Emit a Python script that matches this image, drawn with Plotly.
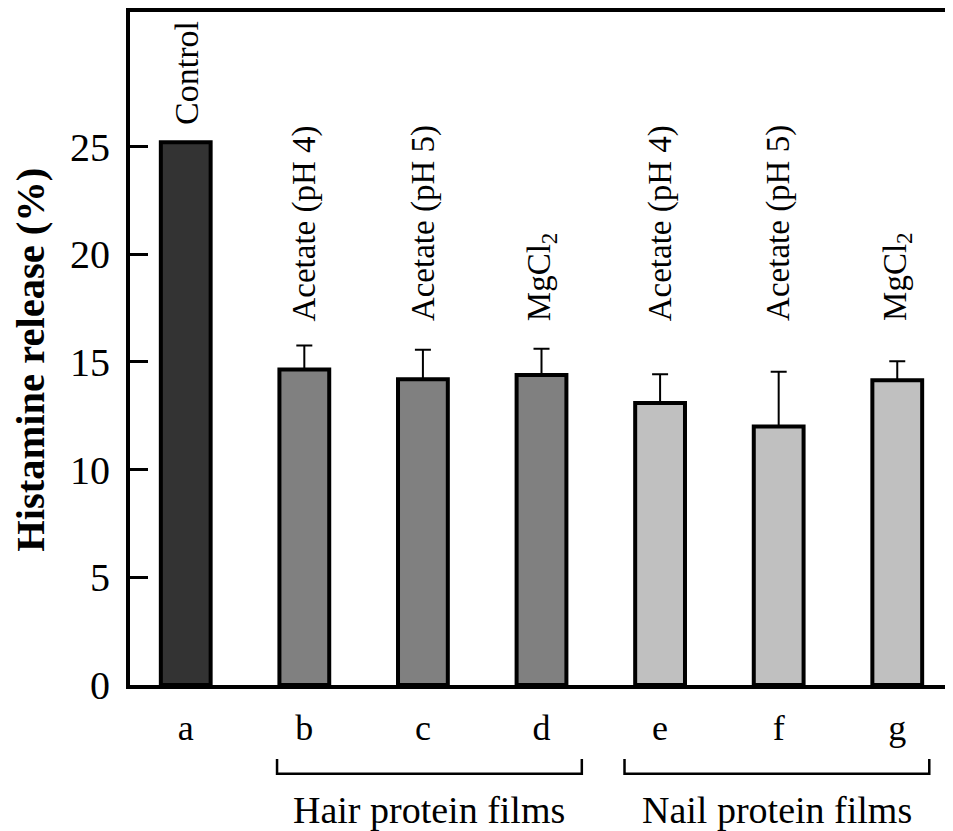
import plotly.graph_objects as go

categories = ["a", "b", "c", "d", "e", "f", "g"]
values = [25.2, 14.65, 14.2, 14.4, 13.1, 12.0, 14.15]
errors_plus = [None, 1.11, 1.37, 1.21, 1.33, 2.54, 0.88]
bar_labels = ["Control", "Acetate (pH 4)", "Acetate (pH 5)", "MgCl<sub>2</sub>",
              "Acetate (pH 4)", "Acetate (pH 5)", "MgCl<sub>2</sub>"]
label_base = [25.9, 16.8, 16.8, 16.8, 16.8, 16.8, 16.8]
bar_colors = ["#333333", "#808080", "#808080", "#808080", "#c0c0c0", "#c0c0c0", "#c0c0c0"]
group_names = ["Hair protein films", "Nail protein films"]
group_first = [1, 4]
group_last = [3, 6]
y_ticks = [0, 5, 10, 15, 20, 25]
y_title = "<b>Histamine release (%)</b>"

# bracket overhang beyond the first / last bar centre of each group (style)
BRACKET_PAD = [(0.23, 0.34), (0.30, 0.27)]

FONT = "Liberation Serif"
x_idx = list(range(len(categories)))

fig = go.Figure()
fig.add_trace(go.Bar(
    x=x_idx, y=values, width=0.42,
    marker=dict(color=bar_colors, line=dict(color="black", width=4)),
    error_y=dict(type="data", array=errors_plus, symmetric=False,
                 arrayminus=[0] * len(values), color="black",
                 thickness=2, width=8),
    showlegend=False,
))

for xi, lab, yb in zip(x_idx, bar_labels, label_base):
    fig.add_annotation(x=xi, y=yb, text=lab, textangle=-90, showarrow=False,
                       xanchor="center", yanchor="bottom",
                       font=dict(family=FONT, size=34 if xi == 0 else 33, color="black"))

for name, g0, g1, (pl, pr) in zip(group_names, group_first, group_last, BRACKET_PAD):
    x0 = g0 - pl
    x1 = g1 + pr
    fig.add_shape(type="path", xref="x", yref="paper",
                  path=f"M {x0},-0.110 L {x0},-0.132 L {x1},-0.132 L {x1},-0.110",
                  line=dict(color="black", width=2.5))
    fig.add_annotation(x=(x0 + x1) / 2, y=-0.185, xref="x", yref="paper",
                       text=name, showarrow=False, xanchor="center", yanchor="middle",
                       font=dict(family=FONT, size=38, color="black"))

# y-axis title
fig.add_annotation(x=-0.121, y=0.484, xref="paper", yref="paper", text=y_title,
                   textangle=-90, showarrow=False, xanchor="center", yanchor="middle",
                   font=dict(family=FONT, size=40.5, color="black"))

fig.update_xaxes(range=[-0.47, 6.47], tickvals=x_idx, ticktext=categories,
                 showline=True, linecolor="black", linewidth=4, mirror=True,
                 ticks="", showgrid=False, zeroline=False,
                 tickfont=dict(family=FONT, size=36, color="black"),
                 ticklabelstandoff=8)
fig.update_yaxes(range=[0, 31.25], tickvals=y_ticks,
                 showline=True, linecolor="black", linewidth=4, mirror=False,
                 ticks="inside", ticklen=18, tickwidth=3, tickcolor="black",
                 showgrid=False, zeroline=False,
                 tickfont=dict(family=FONT, size=40, color="black"),
                 ticklabelstandoff=8)

fig.update_layout(width=945, height=823,
                  margin=dict(l=122, r=0, t=2, b=146),
                  paper_bgcolor="white", plot_bgcolor="white",
                  bargap=0.58)

fig.write_html("out.html")
